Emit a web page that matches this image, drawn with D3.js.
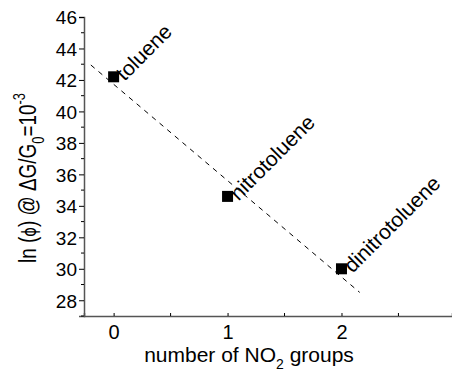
<!DOCTYPE html>
<html>
<head>
<meta charset="utf-8">
<script src="https://cdn.jsdelivr.net/npm/d3@7"></script>
<style>
  body { margin: 0; background: #fff; }
  svg { font-family: "Liberation Sans", Arial, sans-serif; }
</style>
</head>
<body>
<svg id="chart" width="452" height="375"></svg>
<script>
// data
const names = ["toluene", "nitrotoluene", "dinitrotoluene"];
const nitroGroups = [0, 1, 2];
const lnPhi = [42.2, 34.6, 30.0];
// dashed linear fit, drawn between these end points
const fitX = [-0.2, 2.16];
const fitY = [42.95, 28.5];
const yTicks = [28, 30, 32, 34, 36, 38, 40, 42, 44, 46];
const xTicks = [0, 1, 2];

const svg = d3.select("#chart");
const margin = { top: 17, left: 84, bottom: 59, right: 0 };
const width = 452, height = 375;

const x = d3.scaleLinear().domain([-0.26, 2.97]).range([margin.left, width - margin.right]);
const y = d3.scaleLinear().domain([27, 46]).range([height - margin.bottom, margin.top]);

// y axis: majors every 2, minors on odd values
const yAxis = svg.append("g").attr("transform", `translate(${margin.left},0)`);
yAxis.call(d3.axisLeft(y).tickValues(yTicks).tickSize(5).tickPadding(2));
yAxis.selectAll(".minor")
  .data(d3.range(27, 46, 2)).join("line")
  .attr("class", "minor")
  .attr("x1", -3).attr("x2", 0)
  .attr("y1", d => y(d)).attr("y2", d => y(d))
  .attr("stroke", "#000");

// x axis: ticks point inward
const xAxis = svg.append("g").attr("transform", `translate(0,${height - margin.bottom})`);
xAxis.call(d3.axisBottom(x).tickValues(xTicks).tickSize(-3).tickPadding(9).tickFormat(d3.format("d")));
xAxis.selectAll(".minor")
  .data([0.5, 1.5, 2.5]).join("line")
  .attr("class", "minor")
  .attr("y1", -3).attr("y2", 0)
  .attr("x1", d => x(d)).attr("x2", d => x(d))
  .attr("stroke", "#000");

svg.selectAll(".domain").attr("stroke", "#555").attr("stroke-width", 1.5);
yAxis.selectAll(".tick text").style("font-size", "19px").attr("fill", "#000").attr("dy", "0.36em");
xAxis.selectAll(".tick text").style("font-size", "20px").attr("fill", "#000");

// fit line
svg.append("line")
  .attr("x1", x(fitX[0])).attr("y1", y(fitY[0]))
  .attr("x2", x(fitX[1])).attr("y2", y(fitY[1]))
  .attr("stroke", "#000").attr("stroke-width", 1)
  .attr("stroke-dasharray", "5,5");

// markers
const s = 11;
svg.selectAll(".pt")
  .data(nitroGroups).join("rect")
  .attr("class", "pt")
  .attr("x", (d) => x(d) - s / 2)
  .attr("y", (d, i) => y(lnPhi[i]) - s / 2)
  .attr("width", s).attr("height", s)
  .attr("fill", "#000");

// rotated labels
svg.selectAll(".lbl")
  .data(nitroGroups).join("text")
  .attr("class", "lbl")
  .attr("transform", (d, i) => `translate(${x(d) + 11},${y(lnPhi[i]) + 5}) rotate(-45)`)
  .style("font-size", "21px")
  .text((d, i) => names[i]);

// axis titles
const xt = svg.append("text")
  .attr("x", 249).attr("y", 362)
  .attr("text-anchor", "middle")
  .style("font-size", "21px");
xt.append("tspan").text("number of NO");
xt.append("tspan").attr("dy", 7).style("font-size", "14px").text("2");
xt.append("tspan").attr("dy", -7).text(" groups");

const yt = svg.append("text")
  .attr("transform", "translate(36,178) rotate(-90) scale(0.86,1.1)")
  .attr("text-anchor", "middle")
  .style("font-size", "22px");
yt.append("tspan").text("ln (");
yt.append("tspan").style("font-family", "DejaVu Sans").style("font-size", "17px").text("\u03D5");
yt.append("tspan").text(") @ \u0394G/G");
yt.append("tspan").attr("dy", 7).style("font-size", "15px").text("0");
yt.append("tspan").attr("dy", -7).text("=10");
yt.append("tspan").attr("dy", -10).style("font-size", "15px").text("-3");
</script>
</body>
</html>
